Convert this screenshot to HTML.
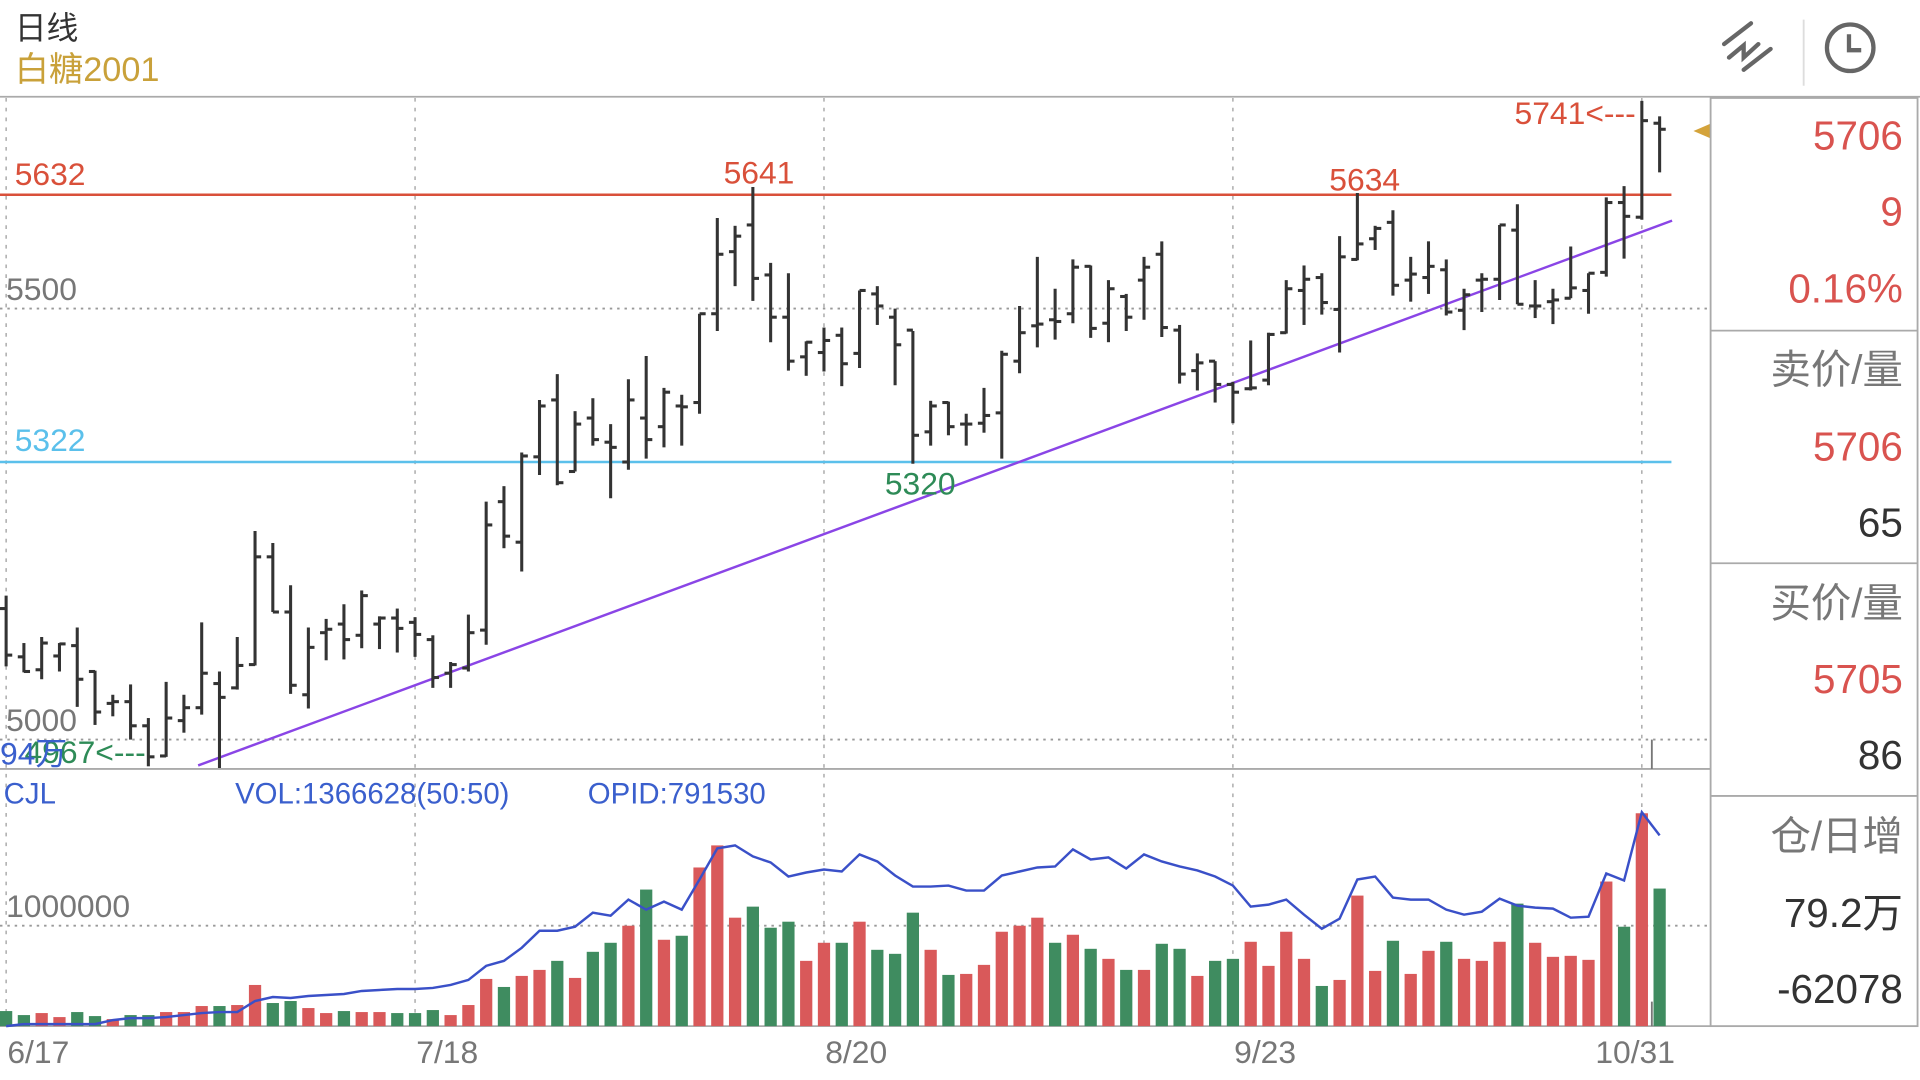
<!DOCTYPE html>
<html><head><meta charset="utf-8">
<style>
html,body{margin:0;padding:0;background:#fff;width:1920px;height:1080px;overflow:hidden}
svg{display:block}
text{font-family:"Liberation Sans","Noto Sans CJK SC",sans-serif}
</style></head>
<body>
<svg id="chart" width="1920" height="1080" viewBox="0 0 1568 882" preserveAspectRatio="none" xmlns="http://www.w3.org/2000/svg">
  <rect x="0" y="0" width="1568" height="882" fill="#fff"/>
  <text x="12" y="32" font-size="26" fill="#333">日线</text>
  <text x="12" y="66" font-size="28" fill="#c9a13a">白糖2001</text>
  <g stroke="#666" stroke-width="3.5" fill="none" stroke-linecap="round">
    <line x1="1408" y1="36" x2="1430" y2="19"/>
    <line x1="1424" y1="57" x2="1446" y2="40"/>
    <polyline points="1412,47 1424,37 1424,47 1436,36"/>
  </g>
  <line x1="1473" y1="16" x2="1473" y2="70" stroke="#ddd" stroke-width="1.5"/>
  <g stroke="#666" stroke-width="3.5" fill="none">
    <circle cx="1511" cy="39" r="19"/>
    <polyline points="1510,28 1510,41 1520,41"/>
  </g>
  <line x1="0" y1="79" x2="1568" y2="79" stroke="#aaa" stroke-width="1.5"/>
  <g id="grid"></g>
  <g id="price"></g>
  <g id="vol"></g>
  <g id="panel"></g>
</svg>
<script>
// ---- data ----
const dateLabels = ["6/17","7/18","8/20","9/23","10/31"];
const dateIndex = [0,23,46,69,92];
const priceTicks = [5500,5000];
const volTicks = [1000000];
const opens  = [5152,5096,5081,5097,5109,5079,5042,5044,5016,4981,5022,5037,5065,5060,5087,5212,5148,5052,5124,5134,5121,5134,5141,5136,5116,5077,5083,5127,5276,5229,5328,5394,5311,5373,5345,5322,5373,5363,5387,5391,5494,5566,5597,5539,5490,5444,5449,5469,5448,5517,5490,5475,5357,5391,5366,5367,5379,5439,5480,5487,5494,5549,5483,5514,5533,5563,5475,5428,5439,5412,5407,5417,5472,5521,5536,5499,5557,5581,5600,5533,5536,5545,5498,5533,5534,5591,5503,5508,5512,5521,5542,5623,5606,5715];
const highs  = [5167,5112,5119,5112,5130,5080,5052,5064,5025,5067,5052,5136,5079,5119,5242,5228,5179,5130,5140,5157,5173,5143,5152,5142,5121,5090,5145,5276,5294,5333,5394,5424,5381,5396,5366,5418,5445,5408,5400,5494,5605,5596,5641,5553,5541,5462,5478,5478,5521,5526,5500,5474,5393,5392,5378,5408,5451,5503,5560,5523,5557,5550,5533,5517,5560,5578,5481,5448,5439,5415,5463,5472,5533,5550,5541,5584,5634,5596,5614,5560,5578,5557,5523,5541,5597,5621,5533,5523,5572,5541,5629,5642,5741,5723];
const lows   = [5085,5078,5070,5079,5038,5017,5027,5000,4969,4980,5008,5029,4967,5058,5086,5148,5053,5036,5092,5093,5106,5105,5101,5096,5060,5060,5079,5110,5222,5195,5307,5295,5311,5341,5280,5313,5326,5339,5341,5378,5474,5526,5509,5461,5428,5422,5427,5410,5431,5481,5411,5320,5341,5353,5341,5356,5326,5425,5455,5464,5483,5466,5461,5474,5487,5467,5413,5405,5391,5367,5405,5411,5471,5481,5493,5449,5556,5568,5515,5508,5517,5492,5475,5496,5510,5505,5489,5482,5512,5494,5537,5558,5603,5658];
const closes = [5098,5079,5112,5111,5070,5032,5044,5016,4980,5025,5037,5077,5049,5086,5212,5148,5063,5107,5128,5116,5167,5141,5129,5122,5072,5087,5124,5249,5236,5329,5387,5298,5366,5348,5339,5394,5348,5403,5386,5494,5563,5584,5535,5490,5439,5461,5463,5436,5521,5503,5458,5353,5387,5363,5366,5376,5447,5472,5482,5485,5548,5477,5523,5490,5548,5478,5424,5437,5412,5403,5408,5470,5523,5534,5507,5560,5575,5593,5527,5540,5549,5496,5516,5534,5597,5505,5503,5510,5524,5541,5623,5607,5718,5708];
const volumes = [0.15,0.11,0.13,0.09,0.14,0.10,0.07,0.11,0.11,0.14,0.14,0.20,0.20,0.21,0.41,0.23,0.25,0.18,0.13,0.15,0.14,0.14,0.13,0.13,0.16,0.11,0.21,0.47,0.39,0.50,0.56,0.65,0.48,0.74,0.83,1.00,1.36,0.86,0.90,1.58,1.80,1.08,1.19,0.98,1.04,0.65,0.83,0.83,1.04,0.76,0.72,1.13,0.76,0.51,0.52,0.61,0.94,1.00,1.08,0.83,0.91,0.77,0.67,0.56,0.56,0.82,0.77,0.50,0.65,0.67,0.84,0.60,0.94,0.67,0.40,0.46,1.30,0.55,0.85,0.52,0.75,0.84,0.67,0.65,0.84,1.22,0.83,0.69,0.70,0.66,1.44,0.99,2.12,1.37].map(v=>v*1000000);
const volColors = "ggrrggrggrrrgrrggrrgrrgggrrrgrrgrggrgrgrrrgggrrgrgggrgrrrrrgrgrgrggrggrrrrgrrrgrrgrrrgrrrrrgrg".split("");
const openInterest = [0.0,0.02,0.02,0.02,0.02,0.02,0.06,0.08,0.08,0.09,0.11,0.13,0.14,0.14,0.25,0.29,0.28,0.30,0.31,0.32,0.35,0.36,0.37,0.37,0.38,0.41,0.46,0.60,0.65,0.78,0.95,0.95,0.99,1.13,1.10,1.26,1.16,1.24,1.16,1.46,1.77,1.80,1.69,1.63,1.49,1.53,1.56,1.54,1.71,1.64,1.50,1.39,1.39,1.40,1.35,1.35,1.50,1.54,1.58,1.59,1.76,1.66,1.68,1.57,1.71,1.64,1.59,1.55,1.49,1.40,1.19,1.21,1.26,1.11,0.97,1.07,1.46,1.49,1.28,1.26,1.26,1.16,1.11,1.14,1.27,1.20,1.18,1.17,1.08,1.09,1.52,1.45,2.13,1.90].map(v=>v*1000000);
const resistance = 5632, support = 5322;
const trendStart = [10.8,4970], trendEnd = [93.7,5602];

// ---- scales ----
const NS="http://www.w3.org/2000/svg";
const X = i => 5 + i*14.52;
const Y = p => 252 - (p-5500)*0.704;
const VY = v => 838 - v/1000000*82;
function mk(tag, attrs, parent, txt){
  const e=document.createElementNS(NS,tag);
  for(const k in attrs) e.setAttribute(k,attrs[k]);
  if(txt!==undefined) e.textContent=txt;
  parent.appendChild(e); return e;
}
const grid=document.getElementById('grid'), price=document.getElementById('price'), vol=document.getElementById('vol'), panel=document.getElementById('panel');

dateIndex.forEach((di,k)=>{
  const l=mk('line',{x1:X(di),y1:80,x2:X(di),y2:838,stroke:'#999','stroke-width':1,'stroke-dasharray':'3,5'},grid);
  
  
  const t=mk('text',{x:X(di)+(k==4?-38:1),y:868,'font-size':26,fill:'#777'},grid,dateLabels[k]);
  
  
});
priceTicks.forEach(p=>{
  const l=mk('line',{x1:0,y1:Y(p),x2:1397,y2:Y(p),stroke:'#999','stroke-width':1.5,'stroke-dasharray':'2,4'},grid);
  
  
  const t=mk('text',{x:5,y:Y(p)-7,'font-size':26,fill:'#777'},grid,String(p));
  
  
});
volTicks.forEach(v=>{
  const l=mk('line',{x1:0,y1:VY(v),x2:1397,y2:VY(v),stroke:'#999','stroke-width':1.5,'stroke-dasharray':'2,4'},grid);
  
  
  const t=mk('text',{x:5,y:VY(v)-7,'font-size':26,fill:'#777'},grid,String(v));
  
  
});
let b=mk('line',{x1:0,y1:628,x2:1397,y2:628,stroke:'#aaa','stroke-width':1.5},grid);


b=mk('line',{x1:0,y1:838,x2:1397,y2:838,stroke:'#aaa','stroke-width':1.5},grid);


b=mk('line',{x1:1349,y1:604,x2:1349,y2:628,stroke:'#777','stroke-width':1.5},grid);



let hl=mk('line',{x1:0,y1:Y(resistance),x2:1365,y2:Y(resistance),stroke:'#d9503a','stroke-width':2},price);


let ht=mk('text',{x:12,y:Y(resistance)-8,'font-size':26,fill:'#d9503a'},price,String(resistance));


hl=mk('line',{x1:0,y1:Y(support),x2:1365,y2:Y(support),stroke:'#5bc0eb','stroke-width':2},price);


ht=mk('text',{x:12,y:Y(support)-9,'font-size':26,fill:'#5bc0eb'},price,String(support));


const tl=mk('line',{x1:X(trendStart[0]),y1:Y(trendStart[1]),x2:X(trendEnd[0]),y2:Y(trendEnd[1]),stroke:'#8a45e6','stroke-width':2},price);



for(let i=0;i<opens.length;i++){
  const g=mk('g',{stroke:'#333','stroke-width':2.5},price);
  
  
  const x=X(i);
  mk('line',{x1:x,y1:Y(highs[i]),x2:x,y2:Y(lows[i])},g);
  mk('line',{x1:x-5,y1:Y(opens[i]),x2:x,y2:Y(opens[i])},g);
  mk('line',{x1:x,y1:Y(closes[i]),x2:x+5,y2:Y(closes[i])},g);
}
function ann(txt,x,y,col,anchor,name){
  const t=mk('text',{x:x,y:y,'font-size':26,fill:col,'text-anchor':anchor},price,txt);
  
  
}
ann(String(highs[42]),X(42)+5,Y(highs[42])-3,'#d9503a','middle','high-annotation');
ann(String(lows[51]),X(51)+6,Y(lows[51])+25,'#2e8b57','middle','low-annotation');
ann(String(highs[76]),X(76)+6,Y(highs[76])-2,'#d9503a','middle','high-annotation');
ann(highs[92]+"<---",X(92)-5,Y(highs[92])+19,'#d9503a','end','max-annotation');
ann(lows[12]+"<---",20,Y(lows[12])-4,'#2e8b57','start','min-annotation');
ann("94万",0,Y(lows[12])-3,'#3a5fcd','start','volume-axis-max');
const tri=mk('polygon',{points:'1383,107 1397,101 1397,113',fill:'#d4a33a'},price);



[["CJL",3],["VOL:1366628(50:50)",192],["OPID:791530",480]].forEach(([t,x])=>{
  const e=mk('text',{x:x,y:656,'font-size':24,fill:'#3a5fcd'},vol,t);
  
  
});
for(let i=0;i<volumes.length;i++){
  const r=mk('rect',{x:X(i)-5,y:VY(volumes[i]),width:10,height:838-VY(volumes[i]),fill:volColors[i]==='r'?'#d9595a':'#3f8c60'},vol);
  
  
}
const pts=openInterest.map((v,i)=>X(i)+','+VY(v)).join(' ');
const oi=mk('polyline',{points:pts,fill:'none',stroke:'#3a50c8','stroke-width':2},vol);


b=mk('line',{x1:1349,y1:818,x2:1349,y2:838,stroke:'#777','stroke-width':1.5},vol);



const pb=mk('rect',{x:1397,y:80,width:169,height:758,fill:'none',stroke:'#aaa','stroke-width':1.5},panel);


[270,460,650].forEach(y=>{
  const l=mk('line',{x1:1397,y1:y,x2:1566,y2:y,stroke:'#aaa','stroke-width':1.5},panel);
  
  
});
const panelItems=[["5706",122,'#d9534f','last-price'],["9",184,'#d9534f','price-change'],["0.16%",247,'#d9534f','change-percent'],
["卖价/量",313,'#777','ask-title'],["5706",376,'#d9534f','ask-price'],["65",438,'#333','ask-volume'],
["买价/量",504,'#777','bid-title'],["5705",566,'#d9534f','bid-price'],["86",628,'#333','bid-volume'],
["仓/日增",694,'#777','open-interest-title'],["79.2万",757,'#333','open-interest-value'],["-62078",819,'#333','open-interest-change']];
panelItems.forEach(([t,y,c,n])=>{
  const e=mk('text',{x:1554,y:y,'font-size':33,fill:c,'text-anchor':'end'},panel,t);
  
  
});
</script>
</body></html>
